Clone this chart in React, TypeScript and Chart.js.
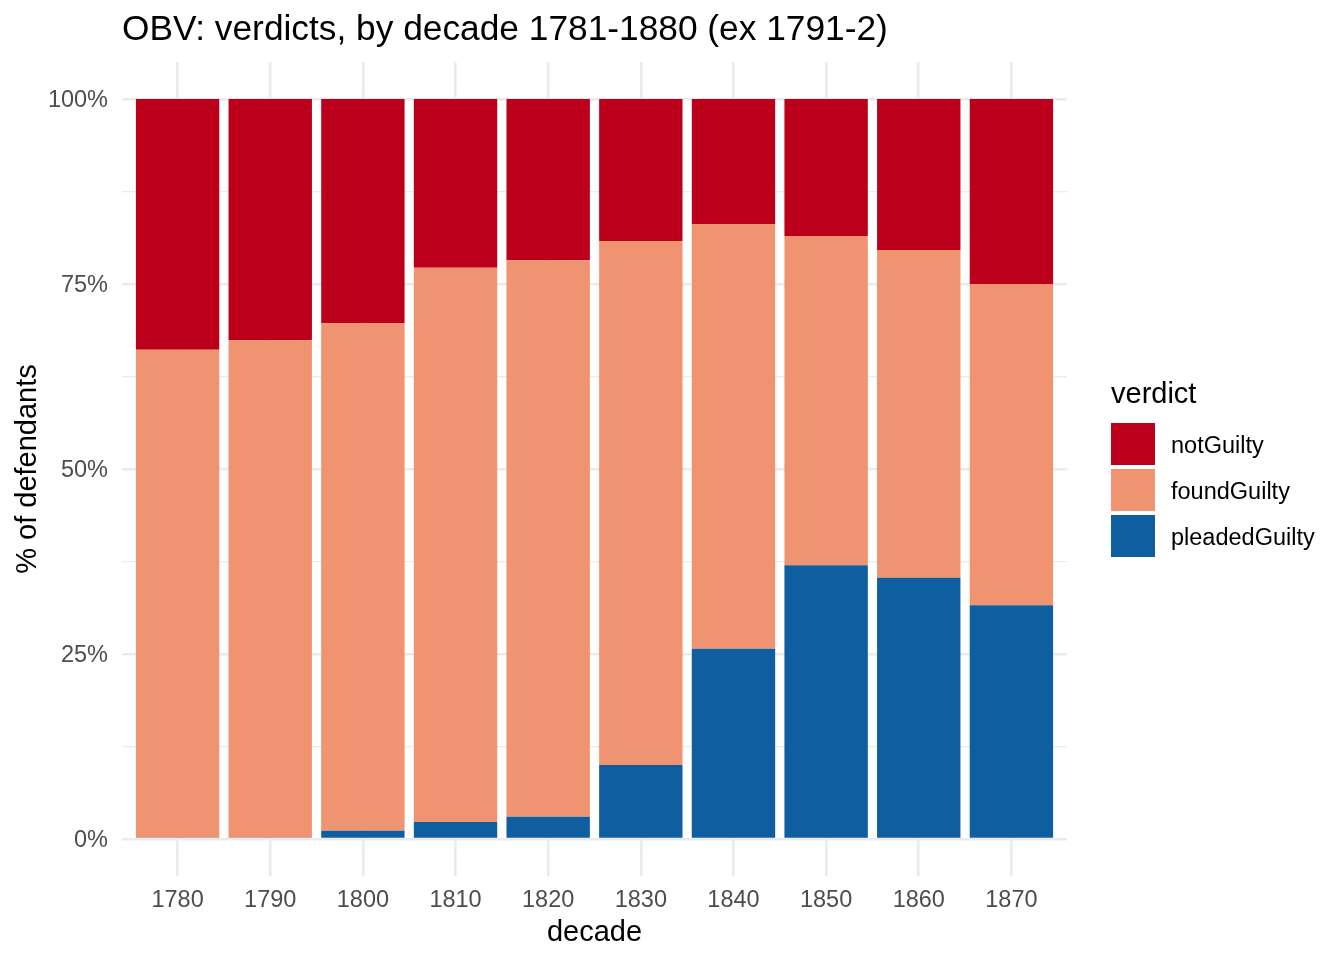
import { useEffect, useRef } from 'react'
import { Chart, registerables } from 'chart.js'

Chart.register(...registerables)

const decades = [1780, 1790, 1800, 1810, 1820, 1830, 1840, 1850, 1860, 1870]
const pleadedGuilty = [0.2, 0.2, 1.1, 2.3, 3.0, 10.0, 25.7, 37.0, 35.3, 31.6]
const foundGuilty = [65.9, 67.2, 68.6, 74.9, 75.2, 70.8, 57.4, 44.5, 44.3, 43.4]
const notGuilty = [33.9, 32.6, 30.3, 22.8, 21.8, 19.2, 16.9, 18.5, 20.4, 25.0]
const yTicks = [0, 12.5, 25, 37.5, 50, 62.5, 75, 87.5, 100]

const FONT = '"Liberation Sans", Arial, Helvetica, sans-serif'
const RED = '#BC001C'
const SALMON = '#EF9370'
const BLUE = '#0E5EA0'
const GRID = '#EBEBEB'

const legendItems = [
  { label: 'notGuilty', color: RED },
  { label: 'foundGuilty', color: SALMON },
  { label: 'pleadedGuilty', color: BLUE },
]

// titles and legend drawn like ggplot2 does
const decorPlugin = {
  id: 'decor',
  afterDraw(chart: Chart) {
    const ctx = chart.ctx
    const area = chart.chartArea
    ctx.save()
    ctx.fillStyle = '#000'
    ctx.textBaseline = 'alphabetic'

    ctx.font = `35.3px ${FONT}`
    ctx.textAlign = 'left'
    ctx.fillText('OBV: verdicts, by decade 1781-1880 (ex 1791-2)', 122, 40)

    ctx.font = `29px ${FONT}`
    ctx.textAlign = 'center'
    ctx.fillText('decade', (area.left + area.right) / 2, 941)

    ctx.save()
    ctx.translate(36, (area.top + area.bottom) / 2)
    ctx.rotate(-Math.PI / 2)
    ctx.fillText('% of defendants', 0, 0)
    ctx.restore()

    ctx.textAlign = 'left'
    ctx.fillText('verdict', 1111, 403)
    ctx.font = `23.5px ${FONT}`
    ctx.textBaseline = 'middle'
    legendItems.forEach((it, i) => {
      const y = 423 + i * 46
      ctx.fillStyle = it.color
      ctx.fillRect(1111, y, 44, 42)
      ctx.fillStyle = '#000'
      ctx.fillText(it.label, 1171, y + 24)
    })
    ctx.restore()
  },
}

export default function App() {
  const canvasRef = useRef<HTMLCanvasElement | null>(null)

  useEffect(() => {
    document.body.style.margin = '0'
    if (!canvasRef.current) return
    const ctx = canvasRef.current.getContext('2d')!

    const bar = (label: string, data: number[], color: string) => ({
      label,
      data,
      backgroundColor: color,
      borderWidth: 0,
      barPercentage: 0.9,
      categoryPercentage: 1,
    })

    const chart = new Chart(ctx, {
      type: 'bar',
      data: {
        labels: decades,
        datasets: [
          bar('pleadedGuilty', pleadedGuilty, BLUE),
          bar('foundGuilty', foundGuilty, SALMON),
          bar('notGuilty', notGuilty, RED),
        ],
      },
      options: {
        animation: false,
        responsive: true,
        maintainAspectRatio: false,
        layout: { padding: { top: 62, right: 277, left: 0, bottom: 0 } },
        plugins: {
          legend: { display: false },
          tooltip: { enabled: false },
        },
        scales: {
          x: {
            type: 'linear',
            stacked: true,
            offset: false,
            min: 1774,
            max: 1876,
            afterBuildTicks: (s: any) => {
              s.ticks = decades.map((v) => ({ value: v }))
            },
            afterFit: (s: any) => {
              s.height = 84
            },
            grid: { color: GRID, lineWidth: 2.6, drawTicks: false, offset: false },
            border: { display: false },
            ticks: {
              padding: 10,
              color: '#4D4D4D',
              font: { family: FONT, size: 23.5 },
              maxRotation: 0,
              autoSkip: false,
              callback: (v: any) => String(v),
            },
          },
          y: {
            stacked: true,
            min: -5,
            max: 105,
            afterBuildTicks: (s: any) => {
              s.ticks = yTicks.map((v) => ({ value: v }))
            },
            afterFit: (s: any) => {
              s.width = 122
            },
            grid: {
              color: GRID,
              lineWidth: (c: any) => (c.tick && c.tick.value % 25 === 0 ? 2.6 : 1.3),
              drawTicks: false,
            },
            border: { display: false },
            ticks: {
              padding: 14,
              labelOffset: 2,
              color: '#4D4D4D',
              font: { family: FONT, size: 23.5 },
              autoSkip: false,
              callback: (v: any) => (v % 25 === 0 ? `${v}%` : ''),
            },
          },
        },
      },
      plugins: [decorPlugin],
    })

    return () => chart.destroy()
  }, [])

  return (
    <div style={{ width: 1344, height: 960, position: 'relative' }}>
      <canvas ref={canvasRef} />
    </div>
  )
}
